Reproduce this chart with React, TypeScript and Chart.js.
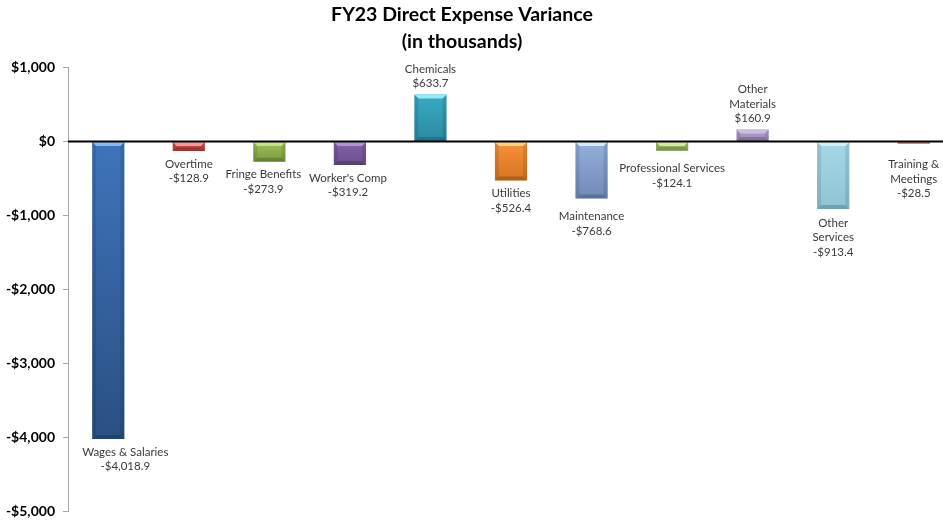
import React, { useEffect, useRef } from 'react';
import { Chart, registerables } from 'chart.js';

Chart.register(...registerables);

const titleLines = ['FY23 Direct Expense Variance', '(in thousands)'];
const categories = ['Wages & Salaries', 'Overtime', 'Fringe Benefits', "Worker's Comp", 'Chemicals', 'Utilities', 'Maintenance', 'Professional Services', 'Other Materials', 'Other Services', 'Training & Meetings'];
const labelLines = [['Wages & Salaries'], ['Overtime'], ['Fringe Benefits'], ["Worker's Comp"], ['Chemicals'], ['Utilities'], ['Maintenance'], ['Professional Services'], ['Other', 'Materials'], ['Other', 'Services'], ['Training &', 'Meetings']];
const values = [-4018.9, -128.9, -273.9, -319.2, 633.7, -526.4, -768.6, -124.1, 160.9, -913.4, -28.5];
const yTicks = [1000, 0, -1000, -2000, -3000, -4000, -5000];

const topColors = ['#3f74bb', '#d9534f', '#9dc05a', '#8464a8', '#38aac4', '#f7923a', '#95b0dc', '#a8c66c', '#b5a2cd', '#a6d8e6', '#c0504d'];
const bottomColors = ['#2a5083', '#b8403c', '#7e9c3e', '#6a4f8c', '#2a8aa2', '#d8731f', '#7089b8', '#93b257', '#9a86b6', '#8cc4d4', '#a03c3a'];
const capColors = ['#86bbee', '#f29a97', '#c4e08a', '#b095d6', '#95eaf5', '#ffd27a', '#d6eaf8', '#d6e8a6', '#cbbde0', '#d4f0f7', '#e08080'];

// layout nudges for data labels (dx, extra dy)
const labelNudge = [[17, 0], [0, 0], [-6, 0], [-2, 0], [0, 0], [0, 0], [0, 5], [0, 5], [0, 0], [0, 1], [0, 8]];

const fmt = (v: number) => {
  const s = Math.abs(v).toLocaleString('en-US', { minimumFractionDigits: 1, maximumFractionDigits: 1 });
  return (v < 0 ? '-$' : '$') + s;
};
const fmtTick = (v: number) => {
  const s = Math.abs(v).toLocaleString('en-US');
  return (v < 0 ? '-$' : '$') + s;
};

const FONT = 'Lato, "Open Sans", sans-serif';

const decorPlugin = {
  id: 'decor',
  beforeDraw(chart: any) {
    const ctx = chart.ctx;
    ctx.save();
    ctx.fillStyle = '#ffffff';
    ctx.fillRect(0, 0, chart.width, chart.height);
    ctx.fillStyle = '#000000';
    ctx.font = `bold 19.5px ${FONT}`;
    ctx.textAlign = 'center';
    ctx.textBaseline = 'middle';
    ctx.fillText(titleLines[0], 462, 15);
    ctx.fillText(titleLines[1], 462, 42);
    ctx.restore();
  },
  afterDatasetsDraw(chart: any) {
    const ctx = chart.ctx;
    const area = chart.chartArea;
    const meta = chart.getDatasetMeta(0);
    const yScale = chart.scales.y;
    const zeroY = yScale.getPixelForValue(0);
    ctx.save();
    meta.data.forEach((bar: any, i: number) => {
      const w = bar.width;
      const l = bar.x - w / 2;
      const r = bar.x + w / 2;
      const top = Math.min(bar.y, bar.base);
      const bottom = Math.max(bar.y, bar.base);
      const h = bottom - top;
      const bev = Math.min(4, h / 2);
      ctx.fillStyle = 'rgba(0,0,0,0.10)';
      ctx.beginPath();
      ctx.moveTo(l, top); ctx.lineTo(l + bev, top + bev); ctx.lineTo(l + bev, bottom - bev); ctx.lineTo(l, bottom); ctx.closePath(); ctx.fill();
      ctx.beginPath();
      ctx.moveTo(r, top); ctx.lineTo(r - bev, top + bev); ctx.lineTo(r - bev, bottom - bev); ctx.lineTo(r, bottom); ctx.closePath(); ctx.fill();
      ctx.fillStyle = 'rgba(0,0,0,0.18)';
      ctx.beginPath();
      ctx.moveTo(l, bottom); ctx.lineTo(l + bev, bottom - bev); ctx.lineTo(r - bev, bottom - bev); ctx.lineTo(r, bottom); ctx.closePath(); ctx.fill();
      ctx.fillStyle = capColors[i];
      ctx.beginPath();
      ctx.moveTo(l, top); ctx.lineTo(r, top); ctx.lineTo(r - bev, top + bev); ctx.lineTo(l + bev, top + bev); ctx.closePath(); ctx.fill();

      const lines = [...labelLines[i], fmt(values[i])];
      const lh = 14.5;
      const [dx, dy] = labelNudge[i];
      ctx.fillStyle = '#3a3a3a';
      ctx.font = `11.5px ${FONT}`;
      ctx.textAlign = 'center';
      ctx.textBaseline = 'middle';
      if (values[i] >= 0) {
        const startY = top - 11 - (lines.length - 1) * lh - dy;
        lines.forEach((t, k) => ctx.fillText(t, bar.x + dx, startY + k * lh));
      } else {
        const startY = bottom + 13 + dy;
        lines.forEach((t, k) => ctx.fillText(t, bar.x + dx, startY + k * lh));
      }
    });
    ctx.strokeStyle = '#000000';
    ctx.lineWidth = 2;
    ctx.beginPath();
    ctx.moveTo(area.left, zeroY);
    ctx.lineTo(area.right, zeroY);
    ctx.stroke();
    ctx.restore();
  },
};

export default function App() {
  const ref = useRef<HTMLCanvasElement>(null);
  useEffect(() => {
    if (!ref.current) return;
    const chart = new Chart(ref.current, {
      type: 'bar',
      data: {
        labels: categories,
        datasets: [
          {
            data: values,
            backgroundColor: (c: any) => {
              const i = c.dataIndex;
              const area = c.chart.chartArea;
              if (!area || i === undefined) return topColors[i ?? 0];
              const yS = c.chart.scales.y;
              const v = values[i];
              const y0 = yS.getPixelForValue(Math.max(v, 0));
              const y1 = yS.getPixelForValue(Math.min(v, 0));
              const g = c.chart.ctx.createLinearGradient(0, y0, 0, Math.max(y1, y0 + 1));
              g.addColorStop(0, topColors[i]);
              g.addColorStop(1, bottomColors[i]);
              return g;
            },
            borderWidth: 0,
            categoryPercentage: 1,
            barPercentage: 0.4,
          },
        ],
      },
      options: {
        responsive: false,
        animation: false,
        devicePixelRatio: 1,
        layout: { padding: { top: 67.5, bottom: 10.5, left: 0, right: 2 } },
        plugins: { legend: { display: false }, tooltip: { enabled: false }, title: { display: false } },
        scales: {
          x: { display: false },
          y: {
            min: -5000,
            max: 1000,
            afterFit: (s: any) => { s.width = 68; s.paddingTop = 0; s.paddingBottom = 0; },
            afterBuildTicks: (s: any) => { s.ticks = yTicks.map((v) => ({ value: v })); },
            ticks: {
              callback: (v: any) => fmtTick(Number(v)),
              font: { family: FONT, size: 14, weight: 'bold' },
              color: '#000000',
              padding: 8,
            },
            grid: { drawOnChartArea: false, drawTicks: true, tickLength: 5, color: '#a6a6a6' },
            border: { display: true, color: '#a6a6a6', width: 1 },
          },
        },
      },
      plugins: [decorPlugin],
    } as any);
    return () => chart.destroy();
  }, []);
  return (
    <div style={{ position: 'fixed', left: 0, top: 0, width: 943, height: 522, overflow: 'hidden', background: '#fff' }}>
      <canvas ref={ref} width={956} height={522} style={{ display: 'block', width: 956, height: 522 }} />
    </div>
  );
}
